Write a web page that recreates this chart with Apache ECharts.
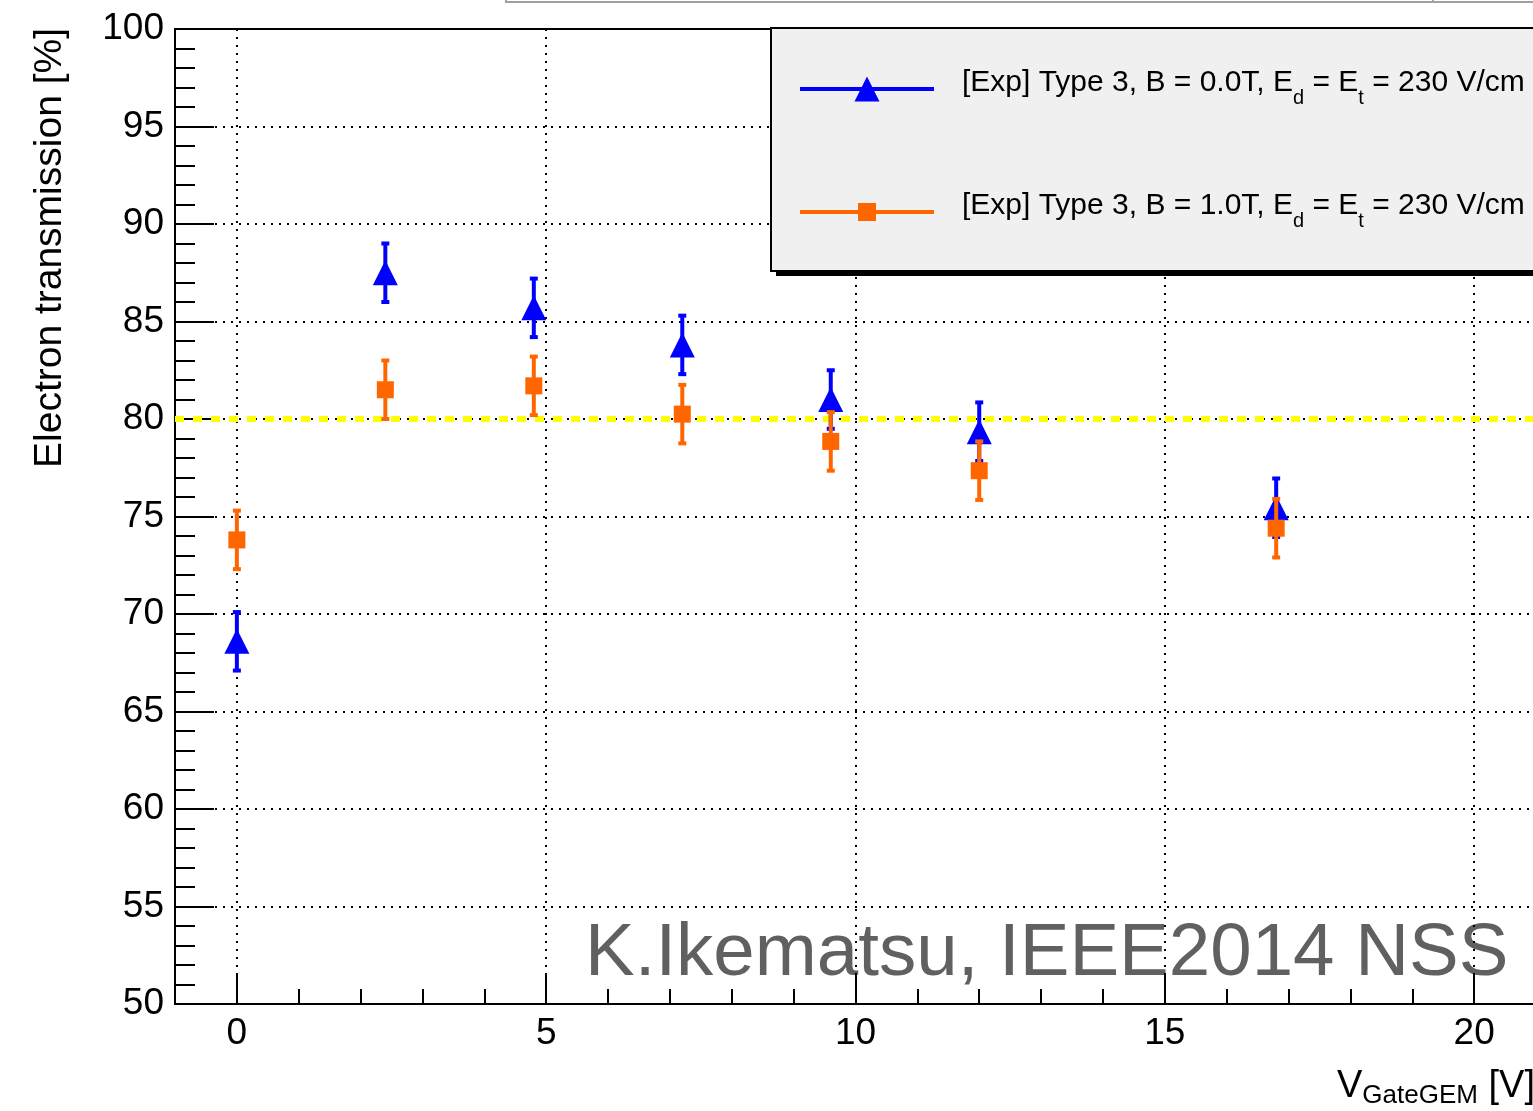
<!DOCTYPE html>
<html><head><meta charset="utf-8">
<script src="https://cdn.jsdelivr.net/npm/echarts@6/dist/echarts.min.js"></script>
<style>html,body{margin:0;padding:0;background:#fff}#c{width:1533px;height:1111px}</style>
</head><body><div id="c"></div>
<script>
// ---- data ----
const vGate = [0, 2.4, 4.8, 7.2, 9.6, 12.0, 16.8];
const transB0 = [68.6, 87.5, 85.7, 83.8, 81.0, 79.35, 75.45];
const errB0 = [1.5, 1.5, 1.5, 1.5, 1.5, 1.5, 1.5];
const transB1 = [73.8, 81.5, 81.7, 80.25, 78.85, 77.35, 74.4];
const errB1 = [1.5, 1.5, 1.5, 1.5, 1.5, 1.5, 1.5];
const xMajorTicks = [0, 5, 10, 15, 20];
const referenceLevel = 80;
const seriesNames = ['[Exp] Type 3, B = 0.0T', '[Exp] Type 3, B = 1.0T'];

const FF = 'Liberation Sans, Arial, Helvetica, sans-serif';
const BLUE = '#0000ff', ORANGE = '#ff6600';

function errRender(color) {
  return function (params, api) {
    const x = api.value(0), lo = api.value(1), hi = api.value(2);
    const p1 = api.coord([x, hi]), p2 = api.coord([x, lo]);
    const cw = 8, ch = 4, sw = 4;
    return { type: 'group', children: [
      { type: 'rect', shape: { x: p1[0] - sw / 2, y: p1[1], width: sw, height: p2[1] - p1[1] }, style: { fill: color } },
      { type: 'rect', shape: { x: p1[0] - cw / 2, y: p1[1] - ch / 2, width: cw, height: ch }, style: { fill: color } },
      { type: 'rect', shape: { x: p2[0] - cw / 2, y: p2[1] - ch / 2, width: cw, height: ch }, style: { fill: color } }
    ]};
  };
}

const lineBlack = { color: '#000', width: 2 };
const dotted = { color: '#000', width: 2, type: [2, 6] };

const chart = echarts.init(document.getElementById('c'), null, { renderer: 'canvas' });
chart.setOption({
  animation: false,
  backgroundColor: '#fff',
  grid: { left: 175, top: 29, right: -3, bottom: 107, containLabel: false, outerBoundsMode: 'none' },
  xAxis: [
    { type: 'value', min: -1, max: 21, interval: 1, position: 'bottom',
      axisLine: { show: true, onZero: false, lineStyle: lineBlack },
      axisTick: { show: true, inside: true, length: 15, lineStyle: lineBlack },
      axisLabel: { show: true, margin: 11, fontSize: 37, fontFamily: FF, color: '#000',
        formatter: v => xMajorTicks.indexOf(v) >= 0 ? String(v) : '' },
      splitLine: { show: false } },
    { type: 'value', min: -1, max: 21, position: 'bottom',
      axisLine: { show: false },
      axisTick: { show: true, inside: true, length: 31, customValues: xMajorTicks, lineStyle: lineBlack },
      axisLabel: { show: false, customValues: xMajorTicks },
      splitLine: { show: true, lineStyle: dotted } },
    { type: 'value', min: -1, max: 21, position: 'top',
      axisLine: { show: true, onZero: false, lineStyle: lineBlack },
      axisTick: { show: false }, axisLabel: { show: false }, splitLine: { show: false } }
  ],
  yAxis: [
    { type: 'value', min: 50, max: 100, interval: 5, position: 'left',
      axisLine: { show: true, onZero: false, lineStyle: lineBlack },
      axisTick: { show: true, inside: true, length: 39, lineStyle: lineBlack },
      minorTick: { show: true, splitNumber: 5, length: 20, lineStyle: lineBlack },
      axisLabel: { margin: 11, fontSize: 37, fontFamily: FF, color: '#000' },
      splitLine: { show: true, lineStyle: dotted } }
  ],
  legend: {
    orient: 'vertical', left: 771, top: 28,
    padding: [40, 80, 40, 29],
    itemGap: 83, itemWidth: 134, itemHeight: 25,
    backgroundColor: '#f0f0f0', borderColor: '#000', borderWidth: 2,
    selectedMode: false,
    itemStyle: { borderWidth: 0 },
    data: [
      { name: seriesNames[0], icon: 'path://M0,10.5H134V14.5H0ZM67,0L79.5,25H54.5Z' },
      { name: seriesNames[1], icon: 'path://M67,0L67,25M0,10.5H134V14.5H0ZM58,3.5H76V21.5H58Z' }
    ],
    formatter: name => '{n|' + name + ', E}{s|d}{n| = E}{s|t}{n| = 230 V/cm}',
    textStyle: {
      padding: [0, 0, 12, 23], fontSize: 30, fontFamily: FF, color: '#000',
      rich: {
        n: { fontSize: 30, lineHeight: 50, fontFamily: FF, color: '#000' },
        s: { fontSize: 20, lineHeight: 6, verticalAlign: 'bottom', fontFamily: FF, color: '#000' }
      }
    }
  },
  series: [
    { type: 'custom', name: 'errB0', z: 3, silent: true,
      renderItem: errRender(BLUE), encode: { x: 0, y: [1, 2] },
      data: vGate.map((x, i) => [x, transB0[i] - errB0[i], transB0[i] + errB0[i]]),
      markLine: { silent: true, symbol: 'none', label: { show: false }, z: 2,
        lineStyle: { color: '#ffff00', width: 6, type: [9, 9] },
        data: [{ yAxis: referenceLevel }] } },
    { type: 'scatter', name: seriesNames[0], z: 4, silent: true,
      symbol: 'triangle', symbolSize: 25,
      itemStyle: { color: BLUE, opacity: 1 },
      data: vGate.map((x, i) => [x, transB0[i]]) },
    { type: 'custom', name: 'errB1', z: 5, silent: true,
      renderItem: errRender(ORANGE), encode: { x: 0, y: [1, 2] },
      data: vGate.map((x, i) => [x, transB1[i] - errB1[i], transB1[i] + errB1[i]]) },
    { type: 'scatter', name: seriesNames[1], z: 6, silent: true,
      symbol: 'rect', symbolSize: 17,
      itemStyle: { color: ORANGE, opacity: 1 },
      data: vGate.map((x, i) => [x, transB1[i]]) }
  ],
  graphic: [
    { type: 'rect', shape: { x: 506, y: -40, width: 1100, height: 42 },
      style: { fill: '#fff', stroke: '#a0a0a0', lineWidth: 2 } },
    { type: 'line', shape: { x1: 1433, y1: 0, x2: 1433, y2: 3 }, style: { stroke: '#a0a0a0', lineWidth: 2 } },
    // legend drop shadow
    { type: 'rect', z: 3, shape: { x: 776, y: 32, width: 900, height: 244 }, style: { fill: '#000' } },
    { type: 'text', x: 585, y: 954, z: -1,
      style: { text: 'K.Ikematsu, IEEE2014 NSS', fontSize: 74.5, fontFamily: FF, fill: '#606060',
        align: 'left', verticalAlign: 'middle' } },
    { type: 'text', x: 50, y: 28, rotation: Math.PI / 2,
      style: { text: 'Electron transmission [%]', fontSize: 39, fontFamily: FF, fill: '#000',
        align: 'right', verticalAlign: 'middle' } },
    { type: 'text', x: 1337, y: 1065,
      style: { text: '{a|V}{b|GateGEM}{a| [V]}', align: 'left', verticalAlign: 'top',
        rich: {
          a: { fontSize: 38, lineHeight: 44, fontFamily: FF, fill: '#000' },
          b: { fontSize: 26, lineHeight: 4, verticalAlign: 'bottom', fontFamily: FF, fill: '#000' }
        } } }
  ]
});
</script></body></html>
